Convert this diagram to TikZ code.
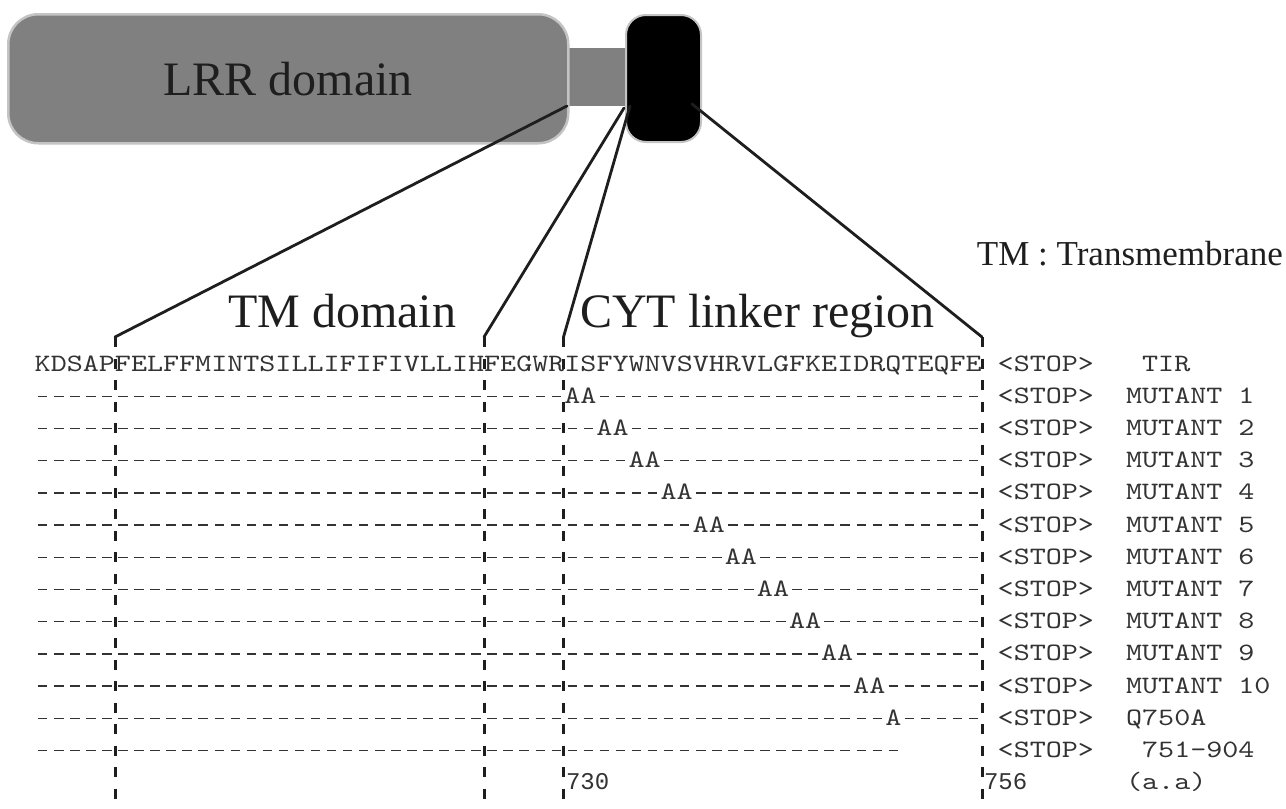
\documentclass[tikz,border=0pt]{standalone}
\usepackage{fontspec}
\setmainfont{Liberation Serif}
\setmonofont{lmmono10-regular.otf}[FakeStretch=1.223]
\newfontfamily\numfont{Liberation Mono}
\ExplSyntaxOn
\cs_new:Npn \myrep #1#2 { \prg_replicate:nn {#1} {#2} }
\ExplSyntaxOff
\newcommand\dsh{\makebox[16.05pt]{\rule[6.3pt]{9.5pt}{1.4pt}}}
\definecolor{boxgray}{HTML}{808080}
\definecolor{rimgray}{HTML}{C4C4C4}
\definecolor{ink}{HTML}{1E1E1E}
\definecolor{seqink}{HTML}{333333}
\begin{document}
\begin{tikzpicture}[x=1pt,y=-1pt,
  seq/.style={anchor=base west, inner sep=0pt, outer sep=0pt, text=seqink, font=\ttfamily\fontsize{25}{30}\selectfont},
  numlab/.style={anchor=base west, inner sep=0pt, outer sep=0pt, text=seqink, font=\numfont\fontsize{24}{28}\selectfont},
  big/.style={inner sep=0pt, text=ink, font=\fontsize{48}{56}\selectfont},
  legend/.style={inner sep=0pt, text=ink, font=\fontsize{35}{40}\selectfont},
  linkline/.style={line width=2.8pt, draw=ink, line cap=round},
  guide/.style={line width=3pt, draw=ink, dash pattern=on 10pt off 11.5pt},
  lrrbox/.style={draw=rimgray, line width=2.5pt, fill=boxgray, rounded corners=30pt, inner sep=0pt, anchor=north west},
  tirbox/.style={draw=rimgray, line width=2pt, fill=black, rounded corners=20pt, inner sep=0pt, anchor=north west},
  stalk/.style={fill=boxgray, inner sep=0pt, anchor=north west},
]
\useasboundingbox (0,0) rectangle (1286,809);
\fill[white] (0,0) rectangle (1286,809);
% protein cartoon
\node[stalk, minimum width=62pt, minimum height=58pt] (link) at (565,48) {};
\node[lrrbox, big, minimum width=560pt, minimum height=129pt] (lrr) at (7,13) {LRR domain};
\node[tirbox, minimum width=75pt, minimum height=127pt] (tir) at (625,14) {};
% start / end points of the zoom lines
\coordinate (s1) at (567,106);
\coordinate (s2) at (624,108);
\coordinate (s3) at (630,106);
\coordinate (s4) at (692,104);
\coordinate (v1) at (115,337);
\coordinate (v2) at (484,337);
\coordinate (v3) at (563.5,337);
\coordinate (v4) at (982,337);
\coordinate (b1) at (115,809);
\coordinate (b2) at (484,809);
\coordinate (b3) at (563.5,809);
\coordinate (b4) at (982,809);
% labels
\node[big, anchor=base west] (tmlab) at (228,327) {TM domain};
\node[big, anchor=base west] (cytlab) at (580,327) {CYT linker region};
\node[legend, anchor=base east] (legendlab) at (1283,265) {TM : Transmembrane};
% sequence rows
\node[seq] (r0) at (34.7,371) {KDSAPFELFFMINTSILLIFIFIVLLIHFEGWRISFYWNVSVHRVLGFKEIDRQTEQFE};
\node[seq] (st0) at ({34.7+16.05*60},371) {<STOP>};
\node[seq] (lb0) at ({34.7+16.05*69},371) {TIR};
\foreach \k in {1,...,10}{
  \node[seq] (r\k) at (34.7,{371+32.2*\k}) {\myrep{33+2*(\k-1)}{\dsh}AA\myrep{24-2*(\k-1)}{\dsh}};
  \node[seq] (st\k) at ({34.7+16.05*60},{371+32.2*\k}) {<STOP>};
  \node[seq] (lb\k) at ({34.7+16.05*68},{371+32.2*\k}) {MUTANT \k};
}
\node[seq] (r11) at (34.7,{371+32.2*11}) {\myrep{53}{\dsh}A\myrep{5}{\dsh}};
\node[seq] (st11) at ({34.7+16.05*60},{371+32.2*11}) {<STOP>};
\node[seq] (lb11) at ({34.7+16.05*68},{371+32.2*11}) {Q750A};
\node[seq] (r12) at (34.7,{371+32.2*12}) {\myrep{54}{\dsh}};
\node[seq] (st12) at ({34.7+16.05*60},{371+32.2*12}) {<STOP>};
\node[seq] (lb12) at ({34.7+16.05*69},{371+32.2*12}) {751-904};
\node[numlab] (n730) at (566,{371+32.2*13}) {730};
\node[numlab] (n756) at (984,{371+32.2*13}) {756};
\node[seq] (lb13) at ({34.7+16.05*68},{371+32.2*13}) {(a.a)};
% zoom lines and guides
\draw[linkline] (s1) -- (v1);
\draw[linkline] (s2) -- (v2);
\draw[linkline] (s3) -- (v3);
\draw[linkline] (s4) -- (v4);
\draw[guide] (v1) -- (b1);
\draw[guide] (v2) -- (b2);
\draw[guide] (v3) -- (b3);
\draw[guide] (v4) -- (b4);
\end{tikzpicture}
\end{document}
